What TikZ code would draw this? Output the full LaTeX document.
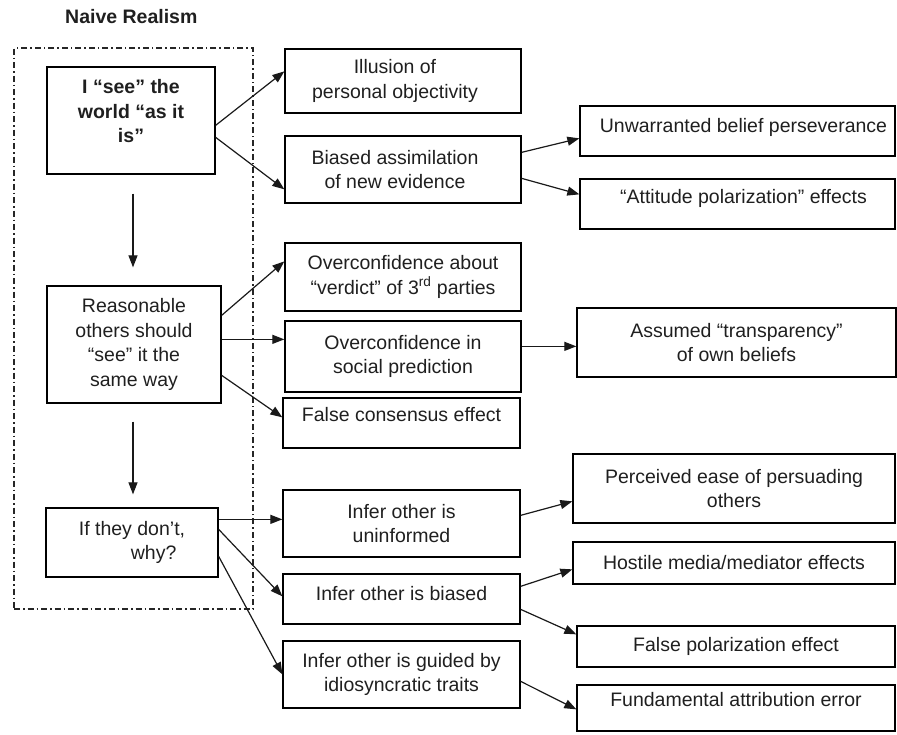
\documentclass[tikz,border=0pt]{standalone}
\usepackage{fontspec}
\setmainfont{Liberation Sans}
\usetikzlibrary{arrows.meta}
\tikzset{
  box/.style={draw=black, line width=1.3pt, inner sep=0pt, align=center,
    font=\fontsize{19.5}{24.5}\selectfont, text=black!88},
  frame/.style={draw=black!85, line width=1.2pt, dash pattern=on 6pt off 3pt on 1.5pt off 3pt, inner sep=0pt},
  arr/.style={draw=black!90, line width=1.2pt, -{Triangle[length=12pt,width=9pt]}},
}
\begin{document}
\begin{tikzpicture}[x=1pt,y=-1pt]
\useasboundingbox (0,0) rectangle (897,734);
\node[font=\bfseries\fontsize{19.5}{24}\selectfont, anchor=base west, text=black!88, inner sep=0pt] (title) at (65,23) {Naive Realism};
\node[frame, minimum width=239pt, minimum height=561pt] (frame) at (133.5,328.5) {};
% left column
\node[box, minimum width=168pt, minimum height=107pt, font=\bfseries\fontsize{19.5}{24.5}\selectfont] (A) at (131,120.5) {I “see” the\\world “as it\\is”\\[-6pt]\mbox{}};
\node[box, minimum width=174pt, minimum height=117pt] (B) at (134,344.5) {Reasonable\\others should\\“see” it the\\same way};
\node[box, minimum width=172pt, minimum height=69pt, align=left] (C) at (132,542.5) {If they don’t,\\\hspace*{52pt}why?};
% middle column
\node[box, minimum width=236pt, minimum height=64pt] (I1) at (403,81) {Illusion of\hspace*{16pt}\\personal objectivity\hspace*{16pt}};
\node[box, minimum width=236pt, minimum height=67pt] (I2) at (403,169.5) {Biased assimilation\hspace*{16pt}\\of new evidence\hspace*{16pt}};
\node[box, minimum width=236pt, minimum height=68pt] (I3) at (403,277) {Overconfidence about\\“verdict” of 3\textsuperscript{rd} parties};
\node[box, minimum width=236pt, minimum height=71pt] (I4) at (403,356.5) {Overconfidence in\\social prediction};
\node[box, minimum width=237pt, minimum height=50pt] (I5) at (401.5,423) {False consensus effect\\[-8pt]\mbox{}};
\node[box, minimum width=237pt, minimum height=67pt] (I6) at (401.5,523.5) {Infer other is\\uninformed};
\node[box, minimum width=237pt, minimum height=50pt] (I7) at (401.5,599) {Infer other is biased\\[-14pt]\mbox{}};
\node[box, minimum width=237pt, minimum height=67pt] (I8) at (401.5,674.5) {Infer other is guided by\\idiosyncratic traits};
% right column
\node[box, minimum width=315pt, minimum height=50pt] (R1) at (737.5,131) {\hspace*{12pt}Unwarranted belief perseverance\\[-14pt]\mbox{}};
\node[box, minimum width=315pt, minimum height=50pt] (R2) at (737.5,204) {\hspace*{12pt}“Attitude polarization” effects\\[-10pt]\mbox{}};
\node[box, minimum width=319pt, minimum height=69pt] (R3) at (736.5,342.5) {Assumed “transparency”\\of own beliefs};
\node[box, minimum width=322pt, minimum height=69pt] (R4) at (734,488.5) {Perceived ease of persuading\\others};
\node[box, minimum width=322pt, minimum height=42pt] (R5) at (734,563) {Hostile media/mediator effects};
\node[box, minimum width=318pt, minimum height=41pt] (R6) at (736,646.5) {False polarization effect};
\node[box, minimum width=318pt, minimum height=46pt] (R7) at (736,708) {Fundamental attribution error\\[-8pt]\mbox{}};
% connectors
\draw[arr] ([yshift=-59pt]A.north east) -- ([yshift=-23pt]I1.north west);
\draw[arr] ([yshift=-71pt]A.north east) -- ([yshift=-54pt]I2.north west);
\draw[arr] ([xshift=2pt,yshift=-19pt]A.south) -- ([xshift=-1pt,yshift=18pt]B.north);
\draw[arr] ([xshift=-1pt,yshift=-18pt]B.south) -- ([xshift=1pt,yshift=13pt]C.north);
\draw[arr] ([yshift=-30pt]B.north east) -- ([yshift=-19pt]I3.north west);
\draw[arr] ([yshift=-54pt]B.north east) -- ([yshift=-19pt]I4.north west);
\draw[arr] ([yshift=-90pt]B.north east) -- ([yshift=-20pt]I5.north west);
\draw[arr] ([yshift=-12pt]C.north east) -- ([yshift=-30pt]I6.north west);
\draw[arr] ([yshift=-22pt]C.north east) -- ([yshift=-23pt]I7.north west);
\draw[arr] ([yshift=-49pt]C.north east) -- ([yshift=-34pt]I8.north west);
\draw[arr] ([yshift=-17pt]I2.north east) -- ([yshift=-33pt]R1.north west);
\draw[arr] ([yshift=-43pt]I2.north east) -- ([yshift=-16pt]R2.north west);
\draw[arr] ([yshift=-26pt]I4.north east) -- ([yshift=-39pt]R3.north west);
\draw[arr] ([yshift=-26pt]I6.north east) -- ([yshift=-48pt]R4.north west);
\draw[arr] ([yshift=-13pt]I7.north east) -- ([yshift=-28pt]R5.north west);
\draw[arr] ([yshift=-36pt]I7.north east) -- ([yshift=-9pt]R6.north west);
\draw[arr] ([yshift=-41pt]I8.north east) -- ([yshift=-25pt]R7.north west);
\end{tikzpicture}
\end{document}
